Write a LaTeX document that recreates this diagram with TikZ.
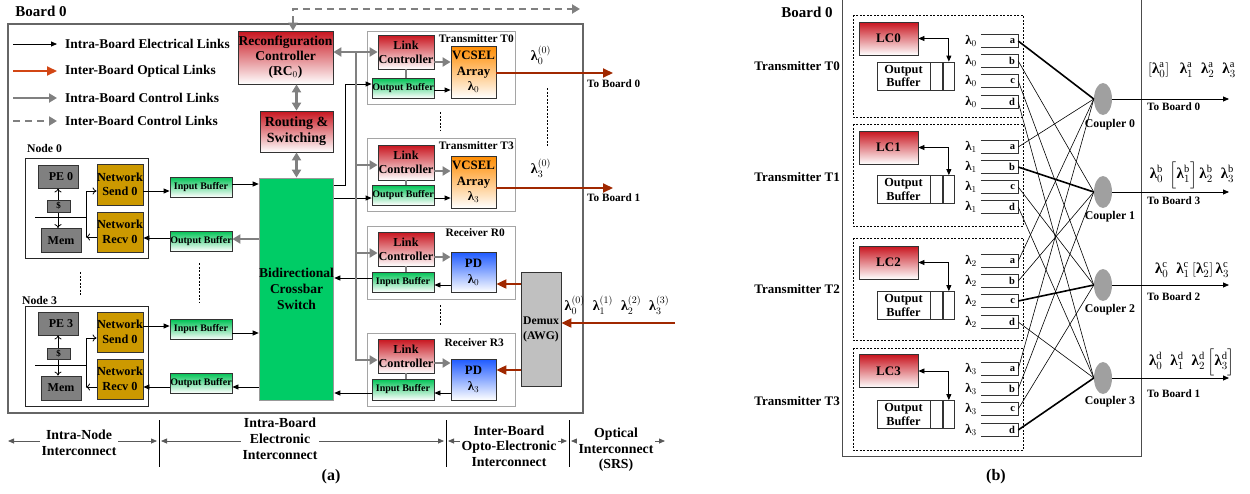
\documentclass[tikz,border=0pt]{standalone}
\usepackage{amsmath,amssymb,amsfonts}
\usepackage{fontspec}
\setmainfont{Liberation Serif}
\usepackage{tikz}
\usetikzlibrary{arrows.meta,shapes.geometric}

\definecolor{lcred}{RGB}{200,20,30}
\definecolor{bufgreen}{RGB}{0,195,85}
\definecolor{xbargreen}{RGB}{0,204,102}
\definecolor{nicgold}{RGB}{204,153,0}
\definecolor{pegray}{RGB}{128,128,128}
\definecolor{vcorange}{RGB}{255,140,0}
\definecolor{pdblue}{RGB}{30,90,255}
\definecolor{optred}{RGB}{160,40,0}
\definecolor{legred}{RGB}{210,70,20}
\definecolor{ctrlgray}{RGB}{128,128,128}
\definecolor{framegray}{RGB}{165,165,165}
\definecolor{demuxgray}{RGB}{192,192,192}
\definecolor{cplgray}{RGB}{160,160,160}

\newcommand{\fsz}[2]{\fontsize{#1}{#2}\selectfont}
\newcommand{\blam}{\text{\bfseries λ}}

\begin{document}
\begin{tikzpicture}[x=1pt,y=-1pt,
  blk/.style={draw=black!80,line width=0.8pt,align=center,font=\bfseries},
  lcbox/.style={blk,top color=lcred,bottom color=white},
  lcabox/.style={lcbox,minimum width=56pt,minimum height=34pt,font={\bfseries\fsz{12.2}{14}}},
  bufbox/.style={blk,top color=bufgreen,bottom color=white,minimum width=62pt,minimum height=20pt,font={\bfseries\fsz{10}{11}}},
  nicbox/.style={blk,fill=nicgold,minimum width=46pt,minimum height=40pt,font={\bfseries\fsz{12.3}{14.5}}},
  pebox/.style={blk,fill=pegray,minimum width=40pt,minimum height=23pt,font={\bfseries\fsz{12}{13}}},
  trframe/.style={draw=framegray,line width=0.9pt,minimum width=148pt,minimum height=73pt},
  plainbox/.style={draw=black!80,line width=0.8pt,minimum height=28pt},
  port/.style={text width=31pt,align=right,inner xsep=3pt,minimum height=12pt,font={\bfseries\fsz{10.5}{11}}},
  cpl/.style={ellipse,fill=cplgray,minimum width=18pt,minimum height=32pt},
  lbl/.style={font=\bfseries,align=center},
  elec/.style={-{Triangle[length=6pt,width=5pt]},line width=0.8pt},
  elecboth/.style={{Triangle[length=6pt,width=5pt]}-{Triangle[length=6pt,width=5pt]},line width=0.8pt},
  openarr/.style={-{To[length=4pt,width=7pt]},line width=0.8pt},
  opt/.style={-{Triangle[length=10pt,width=9pt]},line width=2pt,draw=optred},
  ctrl/.style={-{Triangle[length=8pt,width=9pt]},line width=2.5pt,draw=ctrlgray},
  ctrlboth/.style={ctrl,{Triangle[length=8pt,width=9pt]}-{Triangle[length=8pt,width=9pt]}},
  dotline/.style={dash pattern=on 2pt off 1.5pt,line width=0.7pt},
  dframe/.style={dash pattern=on 2pt off 1.5pt,line width=0.8pt},
  scalebar/.style={{Triangle[length=6pt,width=5pt]}-{Triangle[length=6pt,width=5pt]},line width=0.8pt,draw=black!65},
  scaletxt/.style={fill=white,inner sep=2pt,align=center,font={\bfseries\fsz{13.8}{16}}}]
\tikzstyle{every node}+=[inner sep=0pt]
\useasboundingbox (0,0) rectangle (1250,493);

% ---------------- (a) ----------------
\node[lbl,font={\bfseries\fsz{15}{17}}] (bda) at (41,11) {Board 0};
\draw[draw=black!60,line width=1.4pt] (8,24) rectangle (583,413);

% legend
\node[lbl,anchor=west,font={\bfseries\fsz{13.4}{15}}] (lg1) at (65,44) {Intra-Board Electrical Links};
\node[lbl,anchor=west,font={\bfseries\fsz{13.4}{15}}] (lg2) at (65,71) {Inter-Board Optical Links};
\node[lbl,anchor=west,font={\bfseries\fsz{13.4}{15}}] (lg3) at (65,98) {Intra-Board Control Links};
\node[lbl,anchor=west,font={\bfseries\fsz{13.4}{15}}] (lg4) at (65,121) {Inter-Board Control Links};
\draw[elec] ([xshift=-52pt]lg1.west) -- ([xshift=-8pt]lg1.west);
\draw[opt,draw=legred] ([xshift=-52pt]lg2.west) -- ([xshift=-8pt]lg2.west);
\draw[ctrl] ([xshift=-52pt]lg3.west) -- ([xshift=-8pt]lg3.west);
\draw[ctrl,dash pattern=on 7pt off 5pt] ([xshift=-52pt]lg4.west) -- ([xshift=-8pt]lg4.west);

% controller, routing, crossbar
\node[lcbox,minimum width=95pt,minimum height=53pt,font={\bfseries\fsz{13.5}{15}}] (rc) at (285.5,57.5) {Reconfiguration\\Controller\\(RC$_0$)};
\node[lcbox,minimum width=73pt,minimum height=41pt,font={\bfseries\fsz{14}{16}}] (rs) at (296.5,131.5) {Routing \&\\Switching};
\node[blk,draw=black!40,fill=xbargreen,minimum width=73pt,minimum height=222pt,font={\bfseries\fsz{13.5}{16}}] (xbar) at (296.5,289) {Bidirectional\\Crossbar\\Switch};
\coordinate (bd0) at (580,9);
\draw[ctrlboth,dash pattern=on 7pt off 5pt] ([xshift=7.5pt]rc.north) |- (bd0);
\draw[ctrlboth] (rs.north) -- (rs.north |- rc.south);
\draw[ctrlboth] (rs.south) -- (xbar.north);

% node 0
\node[lbl,font={\bfseries\fsz{11.7}{13}}] (n0lbl) at (44.5,148) {Node 0};
\node[draw=black!85,line width=0.8pt,minimum width=123pt,minimum height=100pt] (n0) at (86.5,208) {};
\node[pebox] (pe0) at (58,176.5) {\hspace*{6pt}PE 0};
\node[pebox,minimum height=24pt] (mem0) at (61,240.5) {Mem};
\draw[openarr,{To[length=4pt,width=7pt]}-{To[length=4pt,width=7pt]}] (pe0.south) -- (pe0.south |- mem0.north);
\node[pebox,minimum width=23pt,minimum height=12pt,font={\bfseries\fsz{9}{10}}] (ca0) at (58.5,206) {\$};
\node[nicbox,minimum height=41pt] (send0) at (120,184.5) {Network\\Send 0};
\node[nicbox] (recv0) at (120,232) {Network\\Recv 0};
\node[bufbox] (ib0) at (201,187) {Input Buffer};
\node[bufbox] (ob0) at (201,241) {Output Buffer};
\coordinate (bl0) at (35,217);
\coordinate (bus0) at (86,217);
\draw[line width=0.8pt] (bl0) -- (bus0) -- (bus0 |- 0,237);
\draw[openarr] (bus0) |- (send0.west |- 0,191);
\draw[openarr] (recv0.west |- 0,237) -- (bus0 |- 0,237);
\draw[elec] (send0.east |- 0,191) -- (ib0.west |- 0,191);
\draw[elec] (ib0.east |- 0,184) -- (xbar.west |- 0,184);
\draw[ctrl,line width=2pt] (xbar.west |- 0,239) -- (ob0.east |- 0,239);
\draw[elec] (ob0.west |- 0,238) -- (recv0.east |- 0,238);

\draw[dotline] (80,272) -- (80,296);
\draw[dotline] (199,263) -- (199,303);

% node 3
\node[lbl,font={\bfseries\fsz{11.7}{13}}] (n3lbl) at (39.5,300) {Node 3};
\node[draw=black!85,line width=0.8pt,minimum width=123pt,minimum height=100pt] (n3) at (86.5,356) {};
\node[pebox] (pe3) at (58,323.5) {\hspace*{6pt}PE 3};
\node[pebox,minimum height=24pt] (mem3) at (61,388) {Mem};
\draw[openarr,{To[length=4pt,width=7pt]}-{To[length=4pt,width=7pt]}] (pe3.south) -- (pe3.south |- mem3.north);
\node[pebox,minimum width=23pt,minimum height=11pt,font={\bfseries\fsz{9}{10}}] (ca3) at (58.5,353.5) {\$};
\node[nicbox] (send3) at (120,332) {Network\\Send 0};
\node[nicbox] (recv3) at (120,379) {Network\\Recv 0};
\node[bufbox] (ib3) at (201,329.5) {Input Buffer};
\node[bufbox] (ob3) at (201,383) {Output Buffer};
\coordinate (bl3) at (35,365);
\coordinate (bus3) at (86,365);
\draw[line width=0.8pt] (bl3) -- (bus3) -- (bus3 |- 0,387);
\draw[openarr] (bus3) |- (send3.west |- 0,338);
\draw[openarr] (recv3.west |- 0,387) -- (bus3 |- 0,387);
\draw[elec] (send3.east |- 0,326) -- (ib3.west |- 0,326);
\draw[elec] (ib3.east |- 0,333) -- (xbar.west |- 0,333);
\draw[elec] (xbar.west |- 0,387) -- (ob3.east |- 0,387);
\draw[elec] (ob3.west |- 0,387) -- (recv3.east |- 0,387);

% transmitter T0
\node[trframe] (t0f) at (441,67.5) {};
\node[lbl,anchor=east,font={\bfseries\fsz{11.4}{13}}] (t0lbl) at (514,39) {Transmitter T0};
\node[lcabox] (lct0) at (406,52) {Link\\Controller};
\node[bufbox] (obt0) at (403,88) {Output Buffer};
\node[blk,top color=vcorange,bottom color=white,minimum width=45pt,minimum height=52pt,font={\bfseries\fsz{12.8}{15.5}}] (vc0) at (473.5,72) {VCSEL\\Array\\$\blam_0$};
\draw[draw=ctrlgray,line width=2pt] (lct0.south) -- (lct0.south |- obt0.north);
\draw[ctrl,line width=2pt] (lct0.east |- 0,62) -- (vc0.west |- 0,62);
\draw[elec] (obt0.east |- 0,90) -- (vc0.west |- 0,90);
\coordinate (tb0) at (613,73);
\draw[opt] (vc0.east |- tb0) -- (tb0);
\node[font={\bfseries\fsz{14}{16}}] (lam00) at (541,55) {$\blam_0^{(0)}$};
\node[lbl,anchor=west,font={\bfseries\fsz{11.2}{12}}] (tb0lbl) at (587,84) {To Board 0};

\draw[dotline] (440,112) -- (440,131);
\draw[dotline] (547,88) -- (547,147);

% transmitter T3
\node[trframe] (t3f) at (441,174.5) {};
\node[lbl,anchor=east,font={\bfseries\fsz{11.4}{13}}] (t3lbl) at (514,146) {Transmitter T3};
\node[lcabox,minimum height=35pt] (lct3) at (406,162.5) {Link\\Controller};
\node[bufbox] (obt3) at (403,195) {Output Buffer};
\node[blk,top color=vcorange,bottom color=white,minimum width=45pt,minimum height=52pt,font={\bfseries\fsz{12.8}{15.5}}] (vc3) at (473.5,182) {VCSEL\\Array\\$\blam_3$};
\draw[draw=ctrlgray,line width=2pt] (lct3.south) -- (lct3.south |- obt3.north);
\draw[ctrl,line width=2pt] (lct3.east |- 0,171) -- (vc3.west |- 0,171);
\draw[elec] (obt3.east |- 0,198) -- (vc3.west |- 0,198);
\coordinate (tb1) at (613,188);
\draw[opt] (vc3.east |- tb1) -- (tb1);
\node[font={\bfseries\fsz{14}{16}}] (lam30) at (541,168) {$\blam_3^{(0)}$};
\node[lbl,anchor=west,font={\bfseries\fsz{11.2}{12}}] (tb1lbl) at (587,198) {To Board 1};

% receiver R0
\node[trframe] (r0f) at (441,262.5) {};
\node[lbl,anchor=east,font={\bfseries\fsz{11.4}{13}}] (r0lbl) at (505,233) {Receiver R0};
\node[lcabox] (lcr0) at (406,249) {Link\\Controller};
\node[bufbox] (ibr0) at (403,282) {Input Buffer};
\node[blk,top color=pdblue,bottom color=white,minimum width=45pt,minimum height=40pt,font={\bfseries\fsz{12.8}{16}}] (pd0) at (473.5,272) {PD\\$\blam_0$};
\draw[draw=ctrlgray,line width=2pt] (lcr0.south) -- (lcr0.south |- ibr0.north);
\draw[ctrl,line width=2pt] (lcr0.east |- 0,257) -- (pd0.west |- 0,257);
\draw[elec] (pd0.west |- 0,285) -- (ibr0.east |- 0,285);

\draw[dotline] (440,305) -- (440,326);

% receiver R3
\node[trframe] (r3f) at (441,369.5) {};
\node[lbl,anchor=east,font={\bfseries\fsz{11.4}{13}}] (r3lbl) at (504,343) {Receiver R3};
\node[lcabox] (lcr3) at (406,356) {Link\\Controller};
\node[bufbox,minimum height=21pt] (ibr3) at (403,389.5) {Input Buffer};
\node[blk,top color=pdblue,bottom color=white,minimum width=45pt,minimum height=41pt,font={\bfseries\fsz{12.8}{16}}] (pd3) at (473.5,379.5) {PD\\$\blam_3$};
\draw[draw=ctrlgray,line width=2pt] (lcr3.south) -- (lcr3.south |- ibr3.north);
\draw[ctrl,line width=2pt] (lcr3.east |- 0,363) -- (pd3.west |- 0,363);
\draw[elec] (pd3.west |- 0,393) -- (ibr3.east |- 0,393);

% demux
\node[blk,fill=demuxgray,minimum width=40pt,minimum height=114pt,font={\bfseries\fsz{11.7}{15}}] (dmx) at (541,329) {Demux\\(AWG)};
\draw[opt] (dmx.west |- 0,284) -- (pd0.east |- 0,284);
\draw[opt] (dmx.west |- 0,370) -- (pd3.east |- 0,370);
\coordinate (oin) at (675,323);
\draw[opt] (oin) -- (dmx.east |- oin);
\node[font={\bfseries\fsz{14}{16}}] (lamin) at (617,305) {$\blam_0^{(0)}\hspace{8pt}\blam_1^{(1)}\hspace{8pt}\blam_2^{(2)}\hspace{8pt}\blam_3^{(3)}$};

% crossbar to transmitters / receivers
\draw[elec] (xbar.east |- 0,185) -- (345,185) |- (obt0.west |- 0,84);
\draw[elec] (xbar.east |- 0,198) -- (obt3.west |- 0,198);
\draw[elec] (ibr0.west |- 0,278) -- (xbar.east |- 0,278);
\draw[elec] (ibr3.west |- 0,393) -- (xbar.east |- 0,393);

% control links
\draw[ctrlboth] (rc.east |- lct0.west) -- (lct0.west);
\coordinate (cbus) at (356,52);
\draw[ctrl] (cbus) |- (lct3.west |- 0,165);
\draw[ctrl] (cbus) |- (lcr0.west |- 0,253);
\draw[ctrl] (cbus) |- (lcr3.west |- 0,360);

% scale
\draw[line width=0.8pt] (159,420) -- (159,467);
\draw[line width=0.8pt] (446,420) -- (446,467);
\draw[line width=0.8pt] (569,420) -- (569,467);
\draw[scalebar] (8,441) -- (157,441);
\draw[scalebar] (161,441) -- (444,441);
\draw[scalebar] (448,441) -- (567,441);
\draw[scalebar] (571,441) -- (665,441);
\node[scaletxt] (sc1) at (79,443) {Intra-Node\\Interconnect};
\node[scaletxt] (sc2) at (280,439) {Intra-Board\\Electronic\\Interconnect};
\node[scaletxt,font={\bfseries\fsz{13.8}{15.5}}] (sc3) at (509,446) {Inter-Board\\Opto-Electronic\\Interconnect};
\node[scaletxt,font={\bfseries\fsz{13.8}{15.5}}] (sc4) at (616,450) {Optical\\Interconnect\\(SRS)};
\node[lbl,font={\bfseries\fsz{16}{18}}] (capa) at (331,477) {(a)};

% ---------------- (b) ----------------
\node[lbl,font={\bfseries\fsz{15}{17}}] (bdb) at (807,12) {Board 0};
\draw[draw=black!70,line width=1pt] (842,0) -- (842,456) -- (1141,456) -- (1141,0);

% transmitter T0
\draw[dframe] (853,15) rectangle (1023,117);
\node[lbl,anchor=east,font={\bfseries\fsz{13}{15}}] (tx0) at (840,66) {Transmitter T0};
\node[lcbox,minimum width=59pt,minimum height=33pt,font={\bfseries\fsz{13}{15}}] (lc0) at (888.5,38.5) {LC0};
\node[plainbox,minimum width=53pt,align=center,font={\bfseries\fsz{12.3}{13.5}}] (obx0) at (903.5,76) {Output\\Buffer};
\node[plainbox,minimum width=11.5pt,anchor=west] (oby0) at (obx0.east) {};
\node[plainbox,minimum width=11.5pt,anchor=west] (obz0) at (oby0.east) {};
\draw[elecboth] (lc0.east) -| (obz0.north);
\node[font={\bfseries\fsz{13}{14}}] (l0a) at (971,41) {$\blam_0$};
\node[font={\bfseries\fsz{13}{14}}] (l0b) at (971,61) {$\blam_0$};
\node[font={\bfseries\fsz{13}{14}}] (l0c) at (971,81) {$\blam_0$};
\node[font={\bfseries\fsz{13}{14}}] (l0d) at (971,102) {$\blam_0$};
\node[port] (p0a) at (999.5,41) {a};
\node[port] (p0b) at (999.5,61) {b};
\node[port] (p0c) at (999.5,81) {c};
\node[port] (p0d) at (999.5,102) {d};

% transmitter T1
\draw[dframe] (853,124) rectangle (1023,226);
\node[lbl,anchor=east,font={\bfseries\fsz{13}{15}}] (tx1) at (840,177) {Transmitter T1};
\node[lcbox,minimum width=59pt,minimum height=33pt,font={\bfseries\fsz{13}{15}}] (lc1) at (888.5,147.5) {LC1};
\node[plainbox,minimum width=53pt,align=center,font={\bfseries\fsz{12.3}{13.5}}] (obx1) at (903.5,189.5) {Output\\Buffer};
\node[plainbox,minimum width=11.5pt,anchor=west] (oby1) at (obx1.east) {};
\node[plainbox,minimum width=11.5pt,anchor=west] (obz1) at (oby1.east) {};
\draw[elecboth] (lc1.east) -| (obz1.north);
\node[font={\bfseries\fsz{13}{14}}] (l1a) at (971,147) {$\blam_1$};
\node[font={\bfseries\fsz{13}{14}}] (l1b) at (971,167) {$\blam_1$};
\node[font={\bfseries\fsz{13}{14}}] (l1c) at (971,187) {$\blam_1$};
\node[font={\bfseries\fsz{13}{14}}] (l1d) at (971,207) {$\blam_1$};
\node[port] (p1a) at (999.5,147) {a};
\node[port] (p1b) at (999.5,167) {b};
\node[port] (p1c) at (999.5,187) {c};
\node[port] (p1d) at (999.5,207) {d};

% transmitter T2
\draw[dframe] (853,238) rectangle (1023,340);
\node[lbl,anchor=east,font={\bfseries\fsz{13}{15}}] (tx2) at (840,289) {Transmitter T2};
\node[lcbox,minimum width=59pt,minimum height=33pt,font={\bfseries\fsz{13}{15}}] (lc2) at (888.5,262.5) {LC2};
\node[plainbox,minimum width=53pt,align=center,font={\bfseries\fsz{12.3}{13.5}}] (obx2) at (903.5,305.5) {Output\\Buffer};
\node[plainbox,minimum width=11.5pt,anchor=west] (oby2) at (obx2.east) {};
\node[plainbox,minimum width=11.5pt,anchor=west] (obz2) at (oby2.east) {};
\draw[elecboth] (lc2.east) -| (obz2.north);
\node[font={\bfseries\fsz{13}{14}}] (l2a) at (971,261) {$\blam_2$};
\node[font={\bfseries\fsz{13}{14}}] (l2b) at (971,281) {$\blam_2$};
\node[font={\bfseries\fsz{13}{14}}] (l2c) at (971,301) {$\blam_2$};
\node[font={\bfseries\fsz{13}{14}}] (l2d) at (971,322) {$\blam_2$};
\node[port] (p2a) at (999.5,261) {a};
\node[port] (p2b) at (999.5,281) {b};
\node[port] (p2c) at (999.5,301) {c};
\node[port] (p2d) at (999.5,322) {d};

% transmitter T3
\draw[dframe] (853,348) rectangle (1023,450);
\node[lbl,anchor=east,font={\bfseries\fsz{13}{15}}] (tx3) at (840,401) {Transmitter T3};
\node[lcbox,minimum width=59pt,minimum height=33pt,font={\bfseries\fsz{13}{15}}] (lc3) at (888.5,371) {LC3};
\node[plainbox,minimum width=53pt,align=center,font={\bfseries\fsz{12.3}{13.5}}] (obx3) at (903.5,414.5) {Output\\Buffer};
\node[plainbox,minimum width=11.5pt,anchor=west] (oby3) at (obx3.east) {};
\node[plainbox,minimum width=11.5pt,anchor=west] (obz3) at (oby3.east) {};
\draw[elecboth] (lc3.east) -| (obz3.north);
\node[font={\bfseries\fsz{13}{14}}] (l3a) at (971,369) {$\blam_3$};
\node[font={\bfseries\fsz{13}{14}}] (l3b) at (971,389) {$\blam_3$};
\node[font={\bfseries\fsz{13}{14}}] (l3c) at (971,409) {$\blam_3$};
\node[font={\bfseries\fsz{13}{14}}] (l3d) at (971,430) {$\blam_3$};
\node[port] (p3a) at (999.5,369) {a};
\node[port] (p3b) at (999.5,389) {b};
\node[port] (p3c) at (999.5,409) {c};
\node[port] (p3d) at (999.5,430) {d};

\foreach \p in {p0a,p0b,p0c,p0d,p1a,p1b,p1c,p1d,p2a,p2b,p2c,p2d,p3a,p3b,p3c,p3d}
  \draw[line width=0.8pt,draw=black!80] (\p.north west) -- (\p.north east) -- (\p.south east) -- (\p.south west);

% couplers
\node[cpl] (cp0) at (1103,99) {};
\node[cpl] (cp1) at (1103,192) {};
\node[cpl] (cp2) at (1103,285) {};
\node[cpl] (cp3) at (1103,378) {};
\node[lbl,font={\bfseries\fsz{11.8}{13}}] (cp0lbl) at (1110,125) {Coupler 0};
\node[lbl,font={\bfseries\fsz{11.8}{13}}] (cp1lbl) at (1110,217) {Coupler 1};
\node[lbl,font={\bfseries\fsz{11.8}{13}}] (cp2lbl) at (1110,310) {Coupler 2};
\node[lbl,font={\bfseries\fsz{11.8}{13}}] (cp3lbl) at (1110,402) {Coupler 3};

% ports to couplers
\draw[line width=1.6pt] (p0a.east) -- (cp0.west);
\draw[line width=0.6pt] (p1a.east) -- (cp0.west);
\draw[line width=0.6pt] (p2a.east) -- (cp0.west);
\draw[line width=0.6pt] (p3a.east) -- (cp0.west);
\draw[line width=0.6pt] (p0b.east) -- (cp1.west);
\draw[line width=1.6pt] (p1b.east) -- (cp1.west);
\draw[line width=0.6pt] (p2b.east) -- (cp1.west);
\draw[line width=0.6pt] (p3b.east) -- (cp1.west);
\draw[line width=0.6pt] (p0c.east) -- (cp2.west);
\draw[line width=0.6pt] (p1c.east) -- (cp2.west);
\draw[line width=1.6pt] (p2c.east) -- (cp2.west);
\draw[line width=0.6pt] (p3c.east) -- (cp2.west);
\draw[line width=0.6pt] (p0d.east) -- (cp3.west);
\draw[line width=0.6pt] (p1d.east) -- (cp3.west);
\draw[line width=0.6pt] (p2d.east) -- (cp3.west);
\draw[line width=1.6pt] (p3d.east) -- (cp3.west);

% outputs
\coordinate (tob0) at (1229,99);
\coordinate (tob3) at (1229,192);
\coordinate (tob2) at (1229,285);
\coordinate (tob1) at (1229,378);
\draw[elec] (cp0.east) -- (tob0);
\draw[elec] (cp1.east) -- (tob3);
\draw[elec] (cp2.east) -- (tob2);
\draw[elec] (cp3.east) -- (tob1);
\node[lbl,anchor=west,font={\bfseries\fsz{11.2}{12}}] (tob0lbl) at (1147,107) {To Board 0};
\node[lbl,anchor=west,font={\bfseries\fsz{11.2}{12}}] (tob3lbl) at (1147,201) {To Board 3};
\node[lbl,anchor=west,font={\bfseries\fsz{11.2}{12}}] (tob2lbl) at (1147,297) {To Board 2};
\node[lbl,anchor=west,font={\bfseries\fsz{11.2}{12}}] (tob1lbl) at (1147,394) {To Board 1};
\node[font={\bfseries\fsz{15}{17}}] (wl0) at (1192,70) {$\left[\blam_0^{\mathrm{a}}\right]\hspace{8pt}\blam_1^{\mathrm{a}}\hspace{8pt}\blam_2^{\mathrm{a}}\hspace{8pt}\blam_3^{\mathrm{a}}$};
\node[font={\bfseries\fsz{15}{17}}] (wl1) at (1192,175) {$\blam_0^{\mathrm{b}}\hspace{4pt}\left[\blam_1^{\mathrm{b}}\right]\blam_2^{\mathrm{b}}\hspace{8pt}\blam_3^{\mathrm{b}}$};
\node[font={\bfseries\fsz{15}{17}}] (wl2) at (1192,270) {$\blam_0^{\mathrm{c}}\hspace{8pt}\blam_1^{\mathrm{c}}\left[\blam_2^{\mathrm{c}}\right]\blam_3^{\mathrm{c}}$};
\node[font={\bfseries\fsz{15}{17}}] (wl3) at (1192,362) {$\blam_0^{\mathrm{d}}\hspace{8pt}\blam_1^{\mathrm{d}}\hspace{8pt}\blam_2^{\mathrm{d}}\left[\blam_3^{\mathrm{d}}\right]$};
\node[lbl,font={\bfseries\fsz{16}{18}}] (capb) at (996,477) {(b)};
\end{tikzpicture}
\end{document}
